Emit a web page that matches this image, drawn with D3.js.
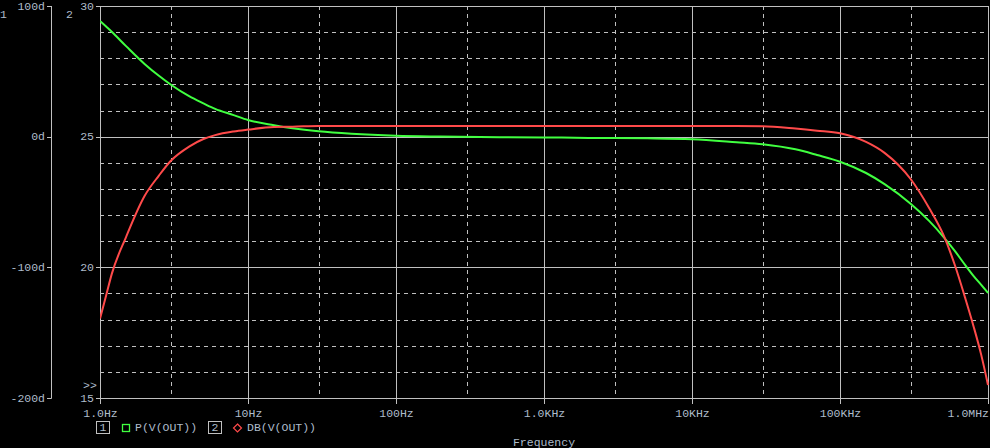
<!DOCTYPE html>
<html>
<head>
<meta charset="utf-8">
<script src="https://cdn.jsdelivr.net/npm/d3@7/dist/d3.min.js"></script>
<style>
  html, body { margin: 0; padding: 0; background: #000; overflow: hidden; }
  svg { display: block; }
  text { font-family: "Liberation Mono", "Courier New", monospace; font-size: 11.5px; fill: #aebccb; }
</style>
</head>
<body>
<svg id="chart" width="990" height="448"></svg>
<script>
// ---- data ----
const freqs = [1, 1.1, 1.2, 1.5, 2, 2.5, 3, 4, 5, 6, 8, 10, 15, 20, 30, 50, 100, 200, 500,
  1e3, 2e3, 5e3, 1e4, 2e4, 3e4, 5e4, 7e4, 1e5, 1.5e5, 2e5, 3e5, 4e5, 5e5, 6e5, 7e5, 8e5, 9e5, 1e6];
const gainDB = [18.04, 18.92, 19.74, 21.16, 22.73, 23.51, 24.07, 24.62, 24.91, 25.06, 25.20, 25.27,
  25.37, 25.38, 25.41, 25.41, 25.41, 25.41, 25.41, 25.41, 25.41, 25.41, 25.41, 25.41, 25.40,
  25.31, 25.23, 25.13, 24.80, 24.38, 23.38, 22.27, 21.24, 20.05, 18.84, 17.73, 16.65, 15.50];
const phaseDeg = [88.52, 84.23, 80.26, 69.31, 55.69, 46.58, 39.92, 30.97, 25.46, 21.25, 16.51, 12.76,
  8.78, 6.48, 4.11, 2.20, 0.66, 0.05, -0.41, -0.56, -0.94, -1.25, -1.94, -4.23, -5.77,
  -9.67, -14.03, -19.16, -27.81, -36.30, -51.30, -64.47, -76.63, -87.81, -98.14, -106.71, -113.45, -119.64];

const freqTicks = [1, 10, 100, 1e3, 1e4, 1e5, 1e6];
const freqTickLabels = ["1.0Hz", "10Hz", "100Hz", "1.0KHz", "10KHz", "100KHz", "1.0MHz"];
const freqMinor = [3, 30, 300, 3e3, 3e4, 3e5];
const dbTicks = [30, 25, 20, 15];
const dbMinor = [29, 28, 27, 26, 24, 23, 22, 21, 19, 18, 17, 16];
const phaseTicks = [100, 0, -100, -200];
const phaseTickLabels = ["100d", "0d", "-100d", "-200d"];

// ---- layout ----
const L = 100, R = 988, T = 6, B = 398, AX1 = 51;
const gridCol = "#c0c0c0", textCol = "#aebccb";
const greenCol = "#40ff40", redCol = "#ff4a4a";

const svg = d3.select("#chart");
svg.append("rect").attr("width", 990).attr("height", 448).attr("fill", "#000");

const x = d3.scaleLog().domain([1, 1e6]).range([L, R]);
const yDB = d3.scaleLinear().domain([15, 30]).range([B, T]);
const yPh = d3.scaleLinear().domain([-200, 100]).range([B, T]);

// grid
const g = svg.append("g");
g.selectAll(".hminor").data(dbMinor).join("line")
  .attr("x1", L).attr("x2", R).attr("y1", d => Math.round(yDB(d)) + 0.5).attr("y2", d => Math.round(yDB(d)) + 0.5)
  .attr("stroke", gridCol).attr("stroke-width", 1).attr("stroke-dasharray", "4,4");
g.selectAll(".vminor").data(freqMinor).join("line")
  .attr("y1", T).attr("y2", B).attr("x1", d => Math.round(x(d)) + 0.5).attr("x2", d => Math.round(x(d)) + 0.5)
  .attr("stroke", gridCol).attr("stroke-width", 1).attr("stroke-dasharray", "4,4");
g.selectAll(".hmajor").data(dbTicks).join("line")
  .attr("x1", L).attr("x2", R).attr("y1", d => Math.round(yDB(d)) + 0.5).attr("y2", d => Math.round(yDB(d)) + 0.5)
  .attr("stroke", gridCol).attr("stroke-width", 1);
g.selectAll(".vmajor").data(freqTicks).join("line")
  .attr("y1", T).attr("y2", B).attr("x1", d => Math.round(x(d)) + 0.5).attr("x2", d => Math.round(x(d)) + 0.5)
  .attr("stroke", gridCol).attr("stroke-width", 1);

// x axis ticks + labels
const xa = svg.append("g");
xa.selectAll("line").data(freqTicks).join("line")
  .attr("x1", d => Math.round(x(d)) + 0.5).attr("x2", d => Math.round(x(d)) + 0.5)
  .attr("y1", B).attr("y2", B + 6).attr("stroke", gridCol);
xa.selectAll("text").data(freqTicks).join("text")
  .attr("x", (d, i) => i === freqTicks.length - 1 ? R + 1 : x(d) + 0.5)
  .attr("y", 414).attr("dominant-baseline", "middle")
  .attr("text-anchor", (d, i) => i === freqTicks.length - 1 ? "end" : "middle")
  .text((d, i) => freqTickLabels[i]);
svg.append("text").attr("x", x(1e3)).attr("y", 442.5).attr("text-anchor", "middle")
  .attr("dominant-baseline", "middle").text("Frequency");

// axis 1 (phase)
svg.append("line").attr("x1", AX1 + 0.5).attr("x2", AX1 + 0.5).attr("y1", T).attr("y2", B + 0.5).attr("stroke", gridCol);
svg.selectAll(".p1t").data(phaseTicks).join("line")
  .attr("x1", AX1 - 4).attr("x2", AX1 + 0.5).attr("y1", d => Math.round(yPh(d)) + 0.5).attr("y2", d => Math.round(yPh(d)) + 0.5)
  .attr("stroke", gridCol);
svg.selectAll(".p1l").data(phaseTicks).join("text")
  .attr("x", AX1 - 6).attr("y", d => yPh(d) + 0.5).attr("text-anchor", "end").attr("dominant-baseline", "middle")
  .text((d, i) => phaseTickLabels[i]);
svg.append("text").attr("x", 0).attr("y", 15).attr("font-size", "9px").attr("dominant-baseline", "middle").text("1");

// axis 2 (dB)
svg.selectAll(".p2t").data(dbTicks).join("line")
  .attr("x1", L - 4).attr("x2", L).attr("y1", d => Math.round(yDB(d)) + 0.5).attr("y2", d => Math.round(yDB(d)) + 0.5)
  .attr("stroke", gridCol);
svg.selectAll(".p2l").data(dbTicks).join("text")
  .attr("x", L - 6).attr("y", d => yDB(d) + 0.5).attr("text-anchor", "end").attr("dominant-baseline", "middle")
  .text(d => d);
svg.append("text").attr("x", 66).attr("y", 15).attr("dominant-baseline", "middle").text("2");
svg.append("text").attr("x", 83).attr("y", 385.5).attr("dominant-baseline", "middle").text(">>");

// traces
const pts = freqs.map((f, i) => ({ f, db: gainDB[i], ph: phaseDeg[i] }));
const lineP = d3.line().x(d => x(d.f)).y(d => yPh(d.ph)).curve(d3.curveMonotoneX);
const lineD = d3.line().x(d => x(d.f)).y(d => yDB(d.db)).curve(d3.curveMonotoneX);
const clip = svg.append("clipPath").attr("id", "clip").append("rect")
  .attr("x", L).attr("y", T).attr("width", R - L + 1).attr("height", B - T + 1);
svg.append("path").datum(pts).attr("d", lineP).attr("fill", "none").attr("stroke", greenCol)
  .attr("stroke-width", 2).attr("clip-path", "url(#clip)");
svg.append("path").datum(pts).attr("d", lineD).attr("fill", "none").attr("stroke", redCol)
  .attr("stroke-width", 2).attr("clip-path", "url(#clip)");

// legend
const lg = svg.append("g");
lg.append("rect").attr("x", 96.5).attr("y", 421.5).attr("width", 13).attr("height", 12).attr("fill", "none").attr("stroke", gridCol);
lg.append("text").attr("x", 103).attr("y", 428).attr("text-anchor", "middle").attr("dominant-baseline", "middle").text("1");
lg.append("rect").attr("x", 122.5).attr("y", 424.5).attr("width", 7).attr("height", 7).attr("fill", "none").attr("stroke", greenCol).attr("stroke-width", 1.3);
lg.append("text").attr("x", 135).attr("y", 428).attr("dominant-baseline", "middle").text("P(V(OUT))");
lg.append("rect").attr("x", 208.5).attr("y", 421.5).attr("width", 13).attr("height", 12).attr("fill", "none").attr("stroke", gridCol);
lg.append("text").attr("x", 215).attr("y", 428).attr("text-anchor", "middle").attr("dominant-baseline", "middle").text("2");
lg.append("path").attr("d", "M237.5,424 L241.5,428 L237.5,432 L233.5,428 Z").attr("fill", "none").attr("stroke", redCol).attr("stroke-width", 1.2);
lg.append("text").attr("x", 247).attr("y", 428).attr("dominant-baseline", "middle").text("DB(V(OUT))");
</script>
</body>
</html>
